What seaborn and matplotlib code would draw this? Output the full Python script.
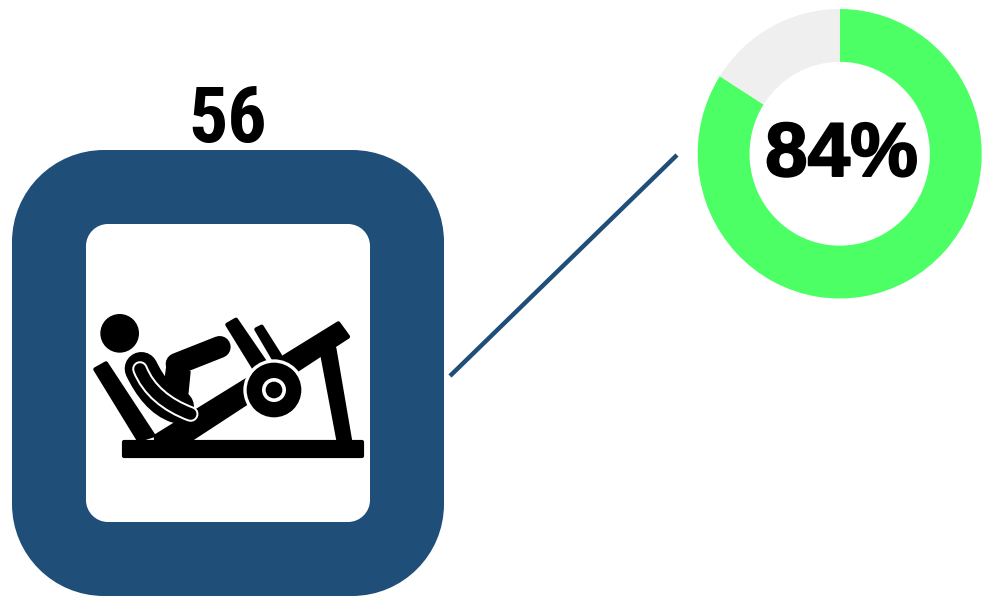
import matplotlib
matplotlib.use("Agg")
import matplotlib.pyplot as plt
import matplotlib.patheffects as pe
from matplotlib.patches import Polygon, Circle, PathPatch
from matplotlib.path import Path
import seaborn as sns

sns.set_theme(style="white")

# Values shown on the graphic
rep_count = ["56"]
completion_labels = ["Complete", "Remaining"]
completion_values = [84, 16]
completion_text = ["84%"]

NAVY = "#1F4E79"
donut_colors = ["#4BFF64", "#EFEFEF"]

W, H = 982, 596
fig = plt.figure(figsize=(W / 100, H / 100), dpi=100, facecolor="white")

# Canvas axes measured in pixels, origin at the top left
ax = fig.add_axes([0, 0, 1, 1])
ax.set_xlim(0, W)
ax.set_ylim(H, 0)
ax.axis("off")


def rounded(x0, y0, x1, y1, r, color, z):
    # Rectangle whose corners are true circular arcs
    k = 0.5523 * r
    verts = [(x0 + r, y0), (x1 - r, y0),
             (x1 - r + k, y0), (x1, y0 + r - k), (x1, y0 + r),
             (x1, y1 - r),
             (x1, y1 - r + k), (x1 - r + k, y1), (x1 - r, y1),
             (x0 + r, y1),
             (x0 + r - k, y1), (x0, y1 - r + k), (x0, y1 - r),
             (x0, y0 + r),
             (x0, y0 + r - k), (x0 + r - k, y0), (x0 + r, y0),
             (x0 + r, y0)]
    codes = [Path.MOVETO, Path.LINETO, Path.CURVE4, Path.CURVE4, Path.CURVE4,
             Path.LINETO, Path.CURVE4, Path.CURVE4, Path.CURVE4,
             Path.LINETO, Path.CURVE4, Path.CURVE4, Path.CURVE4,
             Path.LINETO, Path.CURVE4, Path.CURVE4, Path.CURVE4, Path.CLOSEPOLY]
    ax.add_patch(PathPatch(Path(verts, codes), fc=color, ec="none", zorder=z))


rounded(12, 150, 444, 596, 92, NAVY, 1)
rounded(86, 224, 370, 522, 22, "white", 2)

ax.text(227.5, 142, rep_count[0], ha="center", va="baseline", fontsize=56,
        fontweight="bold", family=["Roboto Condensed", "Roboto", "DejaVu Sans"],
        color="black", zorder=3)

# Connector from the tile to the ring
ax.plot([450, 677], [376, 155], color=NAVY, lw=3.2, solid_capstyle="butt", zorder=2)


# Leg press pictogram, sketched on a 3x grid anchored at (80, 290)
def pt(x, y):
    return (80 + x / 3, 290 + y / 3)


def poly(points, color="black", z=4, join=3.0):
    ax.add_patch(Polygon([pt(*p) for p in points], closed=True, fc=color, ec=color,
                         lw=join, joinstyle="round", zorder=z))


def disc(x, y, r, color, z):
    ax.add_patch(Circle(pt(x, y), r / 3, fc=color, ec="none", zorder=z))


def stroke(points, width, color="black", z=4):
    # Round-capped stroke; two points give a line, four a cubic curve
    codes = [Path.MOVETO, Path.LINETO] if len(points) == 2 else \
        [Path.MOVETO, Path.CURVE4, Path.CURVE4, Path.CURVE4]
    ax.add_patch(PathPatch(Path([pt(*p) for p in points], codes), fc="none", ec=color,
                           lw=width * 0.24, capstyle="round", zorder=z))


# Base and frame
poly([(132, 457), (846, 457), (846, 497), (132, 497)])
poly([(228, 438), (775, 100), (804, 140), (330, 450), (228, 450)])
poly([(728, 200), (763, 175), (810, 450), (775, 450)])
# Seat back
poly([(46, 238), (78, 220), (220, 436), (176, 450)])
# Foot plates
poly([(442, 104), (468, 89), (553, 213), (522, 234)])
poly([(529, 118), (545, 110), (600, 197), (583, 210)])
# Weight plate
disc(582, 300, 92, "white", 5)
disc(582, 300, 82, "black", 6)
disc(582, 300, 36, "white", 7)
disc(582, 300, 25, "black", 8)
# Head
disc(119, 130, 58, "black", 4)
# Torso
stroke([(184, 236), (210, 290), (245, 335), (292, 350)], 100)
# Raised leg
stroke([(290, 222), (419, 171)], 66)
poly([(262, 218), (330, 245), (320, 345), (250, 310)], join=1.0)
# Arm resting along the thigh, with a thin white outline
arm = [(180, 237), (205, 300), (260, 345), (332, 372)]
stroke(arm, 47, "white", 5)
stroke(arm, 35, "black", 6)

# Completion ring
ring_ax = fig.add_axes([697.7 / W, 1 - 298.5 / H, 284 / W, 289.5 / H])
ring_ax.pie(completion_values, labels=None, colors=donut_colors, startangle=90,
            counterclock=False, radius=1,
            wedgeprops={"width": 0.365, "linewidth": 0})
ring_ax.set_aspect("auto")
ring_ax.set_xlim(-1, 1)
ring_ax.set_ylim(-1, 1)
ring_ax.patch.set_alpha(0)

ax.text(841.5, 176, completion_text[0], ha="center", va="baseline", fontsize=55,
        fontweight="bold", family=["Liberation Sans", "DejaVu Sans"], color="black",
        zorder=10, path_effects=[pe.withStroke(linewidth=1.4, foreground="black")])
ax.set_zorder(ring_ax.get_zorder() + 1)
ax.patch.set_alpha(0)

fig.savefig("out.png", dpi=100, facecolor="white")
